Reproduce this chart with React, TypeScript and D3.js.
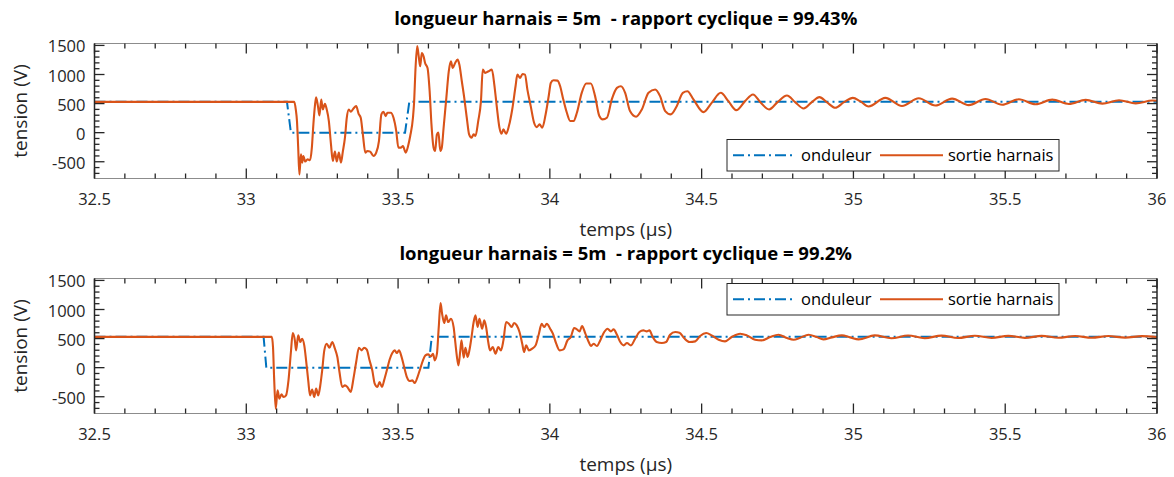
import React from "react";
import * as d3 from "d3";

// ---------- data (time in µs, voltage in V) ----------
const xTicks = [32.5, 33, 33.5, 34, 34.5, 35, 35.5, 36];
const yTicks = [-500, 0, 500, 1000, 1500];

const titles = [
  "longueur harnais = 5m  - rapport cyclique = 99.43%",
  "longueur harnais = 5m  - rapport cyclique = 99.2%",
];
const legendLabels = ["onduleur", "sortie harnais"];

const onduleur1: [number, number][] = [
  [32.5, 530], [33.134, 530], [33.147, 0], [33.523, 0], [33.537, 530], [36, 530],
];
const onduleur2: [number, number][] = [
  [32.5, 530], [33.057, 530], [33.066, 0], [33.600, 0], [33.611, 530], [36, 530],
];

const sortie1: [number, number][] = [
  [32.5, 530], [33.158, 530], [33.163, 400], [33.167, 199], [33.171, -258], [33.175, -720],
  [33.180, -372], [33.184, -515], [33.188, -400], [33.194, -497], [33.202, -457], [33.210, -475],
  [33.216, -258], [33.221, 142], [33.226, 456], [33.230, 610], [33.236, 456], [33.241, 296],
  [33.247, 570], [33.252, 399], [33.259, 496], [33.265, 399], [33.272, 199], [33.279, -201],
  [33.285, -486], [33.292, -326], [33.298, -497], [33.305, -343], [33.312, -515], [33.318, -326],
  [33.325, -86], [33.331, 256], [33.338, 399], [33.344, 359], [33.353, 416], [33.362, 456],
  [33.370, 324], [33.377, 256], [33.384, -29], [33.392, -343], [33.399, -315], [33.408, -326],
  [33.419, -400], [33.428, -343], [33.437, -144], [33.445, 313], [33.452, 359], [33.459, 285],
  [33.465, 342], [33.476, 342], [33.485, 256], [33.494, 28], [33.501, -258], [33.509, -258],
  [33.516, -229], [33.525, -343], [33.533, -229], [33.540, -58], [33.549, 256], [33.553, 541],
  [33.557, 1055], [33.563, 1490], [33.568, 1312], [33.573, 1141], [33.578, 1369], [33.584, 1312],
  [33.589, 1198], [33.597, 1112], [33.604, 713], [33.610, 142], [33.617, -258], [33.622, -315],
  [33.628, -29], [33.633, 1], [33.639, -315], [33.644, -258], [33.650, 85], [33.659, 598],
  [33.667, 1055], [33.674, 1226], [33.680, 1112], [33.688, 1198], [33.696, 1255], [33.702, 1169],
  [33.710, 884], [33.718, 598], [33.727, 227], [33.734, -29], [33.742, -86], [33.749, -29],
  [33.755, -58], [33.764, 199], [33.773, 541], [33.779, 1084], [33.787, 1027], [33.798, 1055],
  [33.809, 1084], [33.817, 827], [33.825, 456], [33.834, 85], [33.841, -18], [33.847, 56],
  [33.856, -18], [33.865, 113], [33.876, 399], [33.887, 798], [33.893, 998], [33.902, 941],
  [33.910, 1009], [33.918, 998], [33.926, 741], [33.937, 456], [33.948, 170], [33.957, 96],
  [33.966, 142], [33.975, 85], [33.986, 313], [33.997, 656], [34.003, 855], [34.012, 901],
  [34.025, 895], [34.034, 798], [34.043, 598], [34.056, 342], [34.067, 200], [34.078, 200],
  [34.089, 342], [34.105, 685], [34.120, 845], [34.135, 845], [34.149, 628], [34.163, 285],
  [34.174, 228], [34.188, 257], [34.204, 571], [34.221, 770], [34.234, 799], [34.248, 685],
  [34.264, 371], [34.284, 274], [34.303, 399], [34.325, 685], [34.347, 742], [34.363, 628],
  [34.380, 371], [34.398, 314], [34.418, 456], [34.438, 685], [34.453, 713], [34.473, 571],
  [34.506, 354], [34.533, 513], [34.563, 685], [34.588, 542], [34.614, 388], [34.643, 542],
  [34.669, 656], [34.695, 513], [34.722, 399], [34.750, 525], [34.781, 639], [34.808, 525],
  [34.836, 416], [34.863, 525], [34.888, 611], [34.912, 525], [34.940, 428], [34.969, 525],
  [34.998, 599], [35.022, 542], [35.05, 450], [35.105, 598], [35.16, 458], [35.215, 592],
  [35.27, 466], [35.325, 586], [35.38, 474], [35.435, 580], [35.49, 481], [35.545, 574],
  [35.60, 488], [35.655, 568], [35.71, 494], [35.765, 563], [35.82, 499], [35.875, 558],
  [35.93, 504], [35.985, 553], [36, 548],
];

const sortie2: [number, number][] = [
  [32.5, 530], [33.084, 530], [33.088, 355], [33.092, -218], [33.097, -705], [33.103, -390],
  [33.109, -533], [33.116, -458], [33.123, -504], [33.131, -476], [33.139, -218], [33.147, 269],
  [33.153, 595], [33.160, 469], [33.164, 298], [33.171, 555], [33.178, 441], [33.184, 498],
  [33.191, 383], [33.197, 126], [33.204, -218], [33.210, -476], [33.217, -378], [33.224, -504],
  [33.230, -361], [33.237, -476], [33.243, -332], [33.250, -46], [33.257, 298], [33.265, 412],
  [33.274, 343], [33.283, 441], [33.292, 326], [33.300, 183], [33.307, -75], [33.316, -332],
  [33.325, -304], [33.333, -332], [33.344, -418], [33.353, -189], [33.362, 97], [33.371, 343],
  [33.380, 298], [33.388, 343], [33.397, 309], [33.406, 126], [33.415, -46], [33.423, -275],
  [33.432, -332], [33.439, -246], [33.447, -332], [33.454, -218], [33.463, -46], [33.472, 137],
  [33.481, 252], [33.489, 298], [33.496, 252], [33.503, 298], [33.511, 194], [33.520, 11],
  [33.529, -161], [33.538, -229], [33.547, -218], [33.555, -264], [33.564, -161], [33.573, -18],
  [33.582, 126], [33.590, 212], [33.599, 229], [33.608, 194], [33.615, 240], [33.621, 126],
  [33.628, 240], [33.634, 698], [33.640, 1111], [33.645, 927], [33.652, 767], [33.658, 899],
  [33.665, 784], [33.674, 842], [33.683, 698], [33.689, 412], [33.694, 183], [33.699, 40],
  [33.705, 298], [33.709, 469], [33.716, 172], [33.722, 343], [33.729, 183], [33.735, 298],
  [33.742, 527], [33.749, 784], [33.755, 899], [33.762, 698], [33.768, 842], [33.777, 670],
  [33.784, 813], [33.790, 698], [33.797, 441], [33.803, 298], [33.812, 355], [33.821, 240],
  [33.830, 355], [33.839, 298], [33.847, 469], [33.856, 784], [33.865, 756], [33.874, 698],
  [33.882, 767], [33.891, 727], [33.900, 613], [33.909, 412], [33.915, 269], [33.922, 383],
  [33.931, 298], [33.942, 326], [33.953, 383], [33.964, 584], [33.973, 756], [33.981, 698],
  [33.990, 756], [34.001, 670], [34.010, 584], [34.021, 412], [34.032, 298], [34.045, 315],
  [34.058, 469], [34.069, 527], [34.080, 681], [34.089, 658], [34.098, 624], [34.106, 716],
  [34.117, 584], [34.128, 441], [34.135, 372], [34.144, 412], [34.155, 372], [34.166, 469],
  [34.179, 613], [34.190, 670], [34.201, 624], [34.210, 658], [34.221, 567], [34.232, 441],
  [34.243, 384], [34.254, 423], [34.267, 384], [34.281, 498], [34.295, 613], [34.308, 641],
  [34.319, 624], [34.328, 641], [34.339, 527], [34.352, 441], [34.369, 423], [34.383, 441],
  [34.396, 567], [34.413, 613], [34.427, 601], [34.442, 509], [34.460, 441], [34.479, 452],
  [34.495, 544], [34.515, 595], [34.533, 555], [34.556, 481], [34.577, 452], [34.599, 527],
  [34.627, 584], [34.649, 555], [34.676, 481], [34.698, 469], [34.726, 527], [34.753, 567],
  [34.781, 509], [34.803, 481], [34.825, 515], [34.852, 567], [34.879, 527], [34.901, 486],
  [34.929, 521], [34.962, 555], [34.989, 521], [35.017, 486], [35.07, 555], [35.125, 505],
  [35.18, 553], [35.235, 507], [35.29, 551], [35.345, 509], [35.40, 549], [35.455, 511],
  [35.51, 547], [35.565, 513], [35.62, 546], [35.675, 514], [35.73, 545], [35.785, 515],
  [35.84, 544], [35.895, 516], [35.95, 543], [36, 527],
];

const panels = [
  { title: titles[0], onduleur: onduleur1, sortie: sortie1 },
  { title: titles[1], onduleur: onduleur2, sortie: sortie2 },
];

// ---------- styling ----------
const W = 1174;
const H = 477;
const FONT = "'Open Sans', 'Noto Sans', sans-serif";
const BLUE = "#0072BD";
const ORANGE = "#D95319";
const AX = "#262626";
const DASH = "11 4 2 4";

const X0 = 94.5;
const X1 = 1157;
const PANEL_TOP = [43.5, 278.5];
const PANEL_H = 135;
const Y_DOMAIN: [number, number] = [-788, 1533];

function Panel({ idx }: { idx: number }) {
  const p = panels[idx];
  const top = PANEL_TOP[idx];
  const bottom = top + PANEL_H;
  const x = d3.scaleLinear().domain([32.5, 36]).range([X0, X1]);
  const y = d3.scaleLinear().domain(Y_DOMAIN).range([bottom, top]);
  const line = d3
    .line<[number, number]>()
    .x((d) => x(d[0]))
    .y((d) => y(d[1]))
    .curve(d3.curveMonotoneX);
  const straight = d3
    .line<[number, number]>()
    .x((d) => x(d[0]))
    .y((d) => y(d[1]));

  const xMinor = x.ticks(35);
  const yMinor = y.ticks(25);
  const MAJ = 10;
  const MIN = 5;
  const clipId = `clip${idx}`;

  const legTop = idx === 0 ? 139.5 : 283.5;
  const legH = 31.5;
  const legL = 727;
  const legR = 1059;
  const legMid = legTop + legH / 2;

  return (
    <g>
      <defs>
        <clipPath id={clipId}>
          <rect x={X0} y={top} width={X1 - X0} height={PANEL_H} />
        </clipPath>
      </defs>
      {/* title */}
      <text
        x={(X0 + X1) / 2}
        y={top - 19}
        textAnchor="middle"
        fontFamily={FONT}
        fontWeight="bold"
        fontSize={18.5}
        fill="#000"
        style={{ whiteSpace: "pre" }}
      >
        {p.title}
      </text>
      {/* data */}
      <g clipPath={`url(#${clipId})`}>
        <path d={straight(p.onduleur) || ""} fill="none" stroke={BLUE} strokeWidth={2} strokeDasharray={DASH} />
        <path d={line(p.sortie) || ""} fill="none" stroke={ORANGE} strokeWidth={2.1} strokeLinejoin="round" />
      </g>
      {/* box */}
      <line x1={X0} x2={X1} y1={top} y2={top} stroke="#8c8c8c" strokeWidth={1} />
      <line x1={X0} x2={X1} y1={bottom} y2={bottom} stroke="#8c8c8c" strokeWidth={1} />
      <line x1={X0} x2={X0} y1={top} y2={bottom} stroke={AX} strokeWidth={1.5} />
      <line x1={X1} x2={X1} y1={top} y2={bottom} stroke={AX} strokeWidth={1.5} />
      {/* x ticks */}
      {xMinor.map((t, i) => {
        const major = xTicks.some((m) => Math.abs(m - t) < 1e-9);
        const L = major ? MAJ : MIN;
        return (
          <g key={`xt${i}`} stroke={AX} strokeWidth={1.3}>
            <line x1={x(t)} x2={x(t)} y1={bottom} y2={bottom - L} />
            <line x1={x(t)} x2={x(t)} y1={top} y2={top + L} />
          </g>
        );
      })}
      {xTicks.map((t) => (
        <text
          key={`xl${t}`}
          x={x(t)}
          y={bottom + 26}
          textAnchor="middle"
          fontFamily={FONT}
          fontSize={16.5}
          fill={AX}
        >
          {String(t)}
        </text>
      ))}
      {/* y ticks */}
      {yMinor.map((v, i) => {
        const major = yTicks.includes(v);
        const L = major ? MAJ : MIN;
        return (
          <g key={`yt${i}`} stroke={AX} strokeWidth={1.3}>
            <line x1={X0} x2={X0 + L} y1={y(v)} y2={y(v)} />
            <line x1={X1} x2={X1 - L} y1={y(v)} y2={y(v)} />
          </g>
        );
      })}
      {yTicks.map((v) => (
        <text
          key={`yl${v}`}
          x={X0 - 9}
          y={y(v) + 7}
          textAnchor="end"
          fontFamily={FONT}
          fontSize={16.5}
          fill={AX}
        >
          {String(v)}
        </text>
      ))}
      {/* axis labels */}
      <text
        x={(X0 + X1) / 2}
        y={bottom + 57.5}
        textAnchor="middle"
        fontFamily={FONT}
        fontSize={19}
        fill={AX}
      >
        temps (µs)
      </text>
      <text
        transform={`translate(27,${(top + bottom) / 2}) rotate(-90)`}
        textAnchor="middle"
        fontFamily={FONT}
        fontSize={19}
        fill={AX}
      >
        tension (V)
      </text>
      {/* legend */}
      <rect x={legL} y={legTop} width={legR - legL} height={legH} fill="#fff" stroke={AX} strokeWidth={1} />
      <line x1={733} x2={795} y1={legMid} y2={legMid} stroke={BLUE} strokeWidth={2} strokeDasharray={DASH} />
      <text x={801} y={legMid + 6} fontFamily={FONT} fontSize={16.5} fill="#000">
        {legendLabels[0]}
      </text>
      <line x1={880} x2={943} y1={legMid} y2={legMid} stroke={ORANGE} strokeWidth={2} />
      <text x={948} y={legMid + 6} fontFamily={FONT} fontSize={16.5} fill="#000">
        {legendLabels[1]}
      </text>
    </g>
  );
}

export default function App() {
  return (
    <svg
      width={W}
      height={H}
      style={{ position: "absolute", left: 0, top: 0, background: "#fff" }}
    >
      <rect x={0} y={0} width={W} height={H} fill="#fff" />
      <Panel idx={0} />
      <Panel idx={1} />
    </svg>
  );
}
